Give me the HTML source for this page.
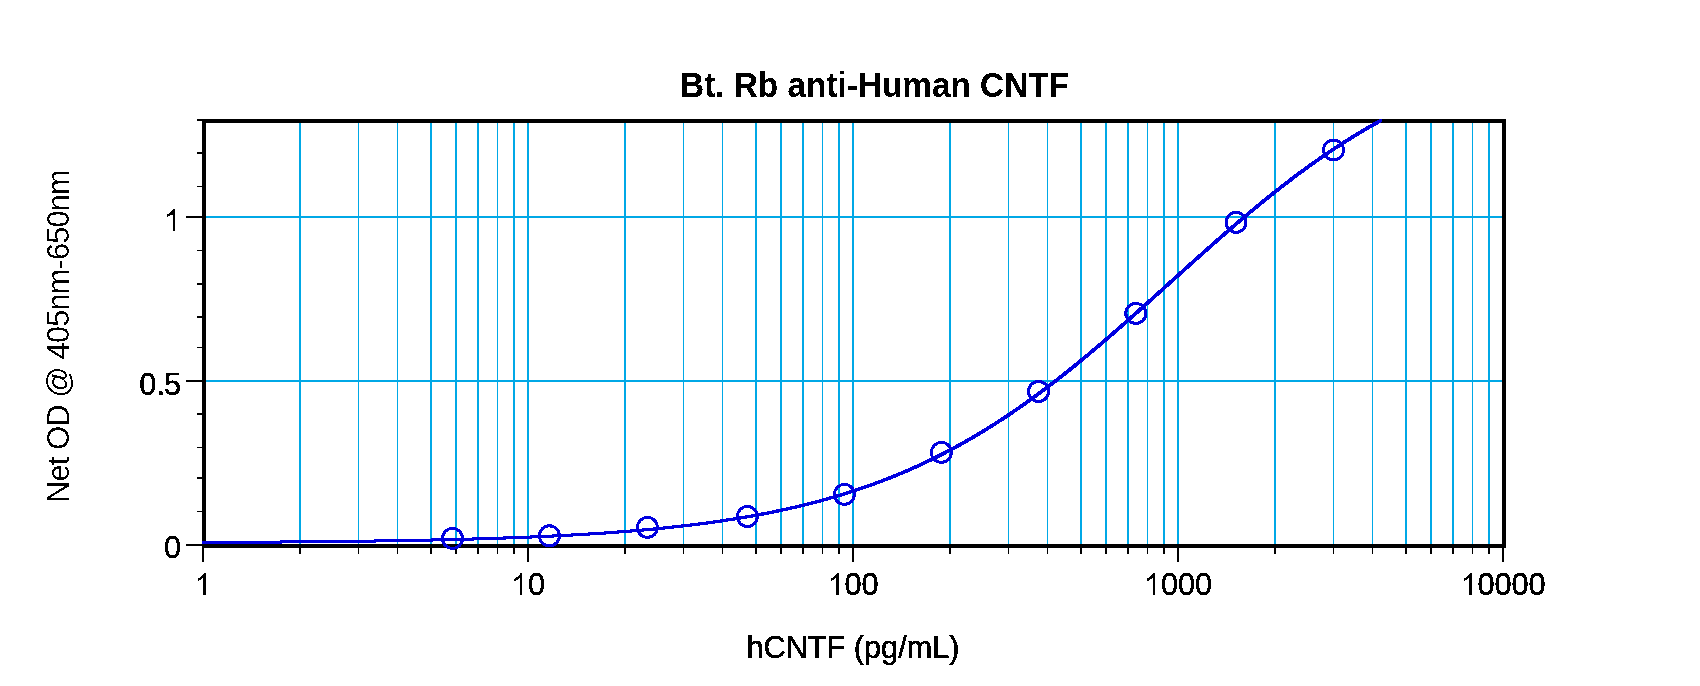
<!DOCTYPE html>
<html><head><meta charset="utf-8"><style>html,body{margin:0;padding:0;background:#fff;overflow:hidden;}svg{display:block;}</style></head>
<body><svg width="1700" height="686" viewBox="0 0 1700 686">
<defs><filter id="bin" x="0" y="0" width="1700" height="686" filterUnits="userSpaceOnUse" color-interpolation-filters="sRGB"><feComponentTransfer><feFuncA type="discrete" tableValues="0 1"/></feComponentTransfer></filter><filter id="bin2" x="0" y="0" width="1700" height="686" filterUnits="userSpaceOnUse" color-interpolation-filters="sRGB"><feComponentTransfer><feFuncA type="discrete" tableValues="0 0 0 0 0 0 1 1 1 1"/></feComponentTransfer></filter></defs>
<rect width="1700" height="686" fill="#fff"/>
<g fill="#00a8e6" shape-rendering="crispEdges"><rect x="299" y="123" width="2" height="421"/><rect x="358" y="123" width="1" height="421"/><rect x="397" y="123" width="1" height="421"/><rect x="430" y="123" width="2" height="421"/><rect x="455" y="123" width="2" height="421"/><rect x="477" y="123" width="2" height="421"/><rect x="497" y="123" width="1" height="421"/><rect x="513" y="123" width="2" height="421"/><rect x="527" y="123" width="2" height="421"/><rect x="624" y="123" width="2" height="421"/><rect x="683" y="123" width="1" height="421"/><rect x="722" y="123" width="1" height="421"/><rect x="755" y="123" width="2" height="421"/><rect x="780" y="123" width="2" height="421"/><rect x="802" y="123" width="2" height="421"/><rect x="822" y="123" width="1" height="421"/><rect x="838" y="123" width="2" height="421"/><rect x="852" y="123" width="2" height="421"/><rect x="949" y="123" width="2" height="421"/><rect x="1008" y="123" width="1" height="421"/><rect x="1047" y="123" width="1" height="421"/><rect x="1080" y="123" width="2" height="421"/><rect x="1105" y="123" width="2" height="421"/><rect x="1127" y="123" width="2" height="421"/><rect x="1147" y="123" width="1" height="421"/><rect x="1163" y="123" width="2" height="421"/><rect x="1177" y="123" width="2" height="421"/><rect x="1274" y="123" width="2" height="421"/><rect x="1333" y="123" width="1" height="421"/><rect x="1372" y="123" width="1" height="421"/><rect x="1405" y="123" width="2" height="421"/><rect x="1430" y="123" width="2" height="421"/><rect x="1452" y="123" width="2" height="421"/><rect x="1472" y="123" width="1" height="421"/><rect x="1488" y="123" width="2" height="421"/><rect x="206" y="216" width="1296" height="2"/><rect x="206" y="380" width="1296" height="2"/></g>
<g fill="#000" shape-rendering="crispEdges"><rect x="202" y="119" width="1304" height="4"/><rect x="202" y="544" width="1304" height="4"/><rect x="202" y="119" width="4" height="429"/><rect x="1502" y="119" width="4" height="429"/><rect x="299" y="546" width="2" height="8"/><rect x="358" y="546" width="1" height="8"/><rect x="397" y="546" width="1" height="8"/><rect x="430" y="546" width="2" height="8"/><rect x="455" y="546" width="2" height="8"/><rect x="477" y="546" width="2" height="8"/><rect x="497" y="546" width="1" height="8"/><rect x="513" y="546" width="2" height="8"/><rect x="527" y="546" width="2" height="16"/><rect x="624" y="546" width="2" height="8"/><rect x="683" y="546" width="1" height="8"/><rect x="722" y="546" width="1" height="8"/><rect x="755" y="546" width="2" height="8"/><rect x="780" y="546" width="2" height="8"/><rect x="802" y="546" width="2" height="8"/><rect x="822" y="546" width="1" height="8"/><rect x="838" y="546" width="2" height="8"/><rect x="852" y="546" width="2" height="16"/><rect x="949" y="546" width="2" height="8"/><rect x="1008" y="546" width="1" height="8"/><rect x="1047" y="546" width="1" height="8"/><rect x="1080" y="546" width="2" height="8"/><rect x="1105" y="546" width="2" height="8"/><rect x="1127" y="546" width="2" height="8"/><rect x="1147" y="546" width="1" height="8"/><rect x="1163" y="546" width="2" height="8"/><rect x="1177" y="546" width="2" height="16"/><rect x="1274" y="546" width="2" height="8"/><rect x="1333" y="546" width="1" height="8"/><rect x="1372" y="546" width="1" height="8"/><rect x="1405" y="546" width="2" height="8"/><rect x="1430" y="546" width="2" height="8"/><rect x="1452" y="546" width="2" height="8"/><rect x="1472" y="546" width="1" height="8"/><rect x="1488" y="546" width="2" height="8"/><rect x="1502" y="546" width="2" height="16"/><rect x="202" y="546" width="2" height="16"/><rect x="197" y="119" width="6" height="2"/><rect x="197" y="152" width="6" height="2"/><rect x="197" y="186" width="6" height="1"/><rect x="186" y="216" width="17" height="2"/><rect x="197" y="250" width="6" height="1"/><rect x="197" y="283" width="6" height="2"/><rect x="197" y="316" width="6" height="2"/><rect x="197" y="347" width="6" height="1"/><rect x="186" y="380" width="17" height="2"/><rect x="197" y="413" width="6" height="2"/><rect x="197" y="447" width="6" height="1"/><rect x="197" y="477" width="6" height="2"/><rect x="197" y="511" width="6" height="1"/><rect x="186" y="544" width="17" height="2"/></g>
<defs><polyline id="cv" points="203.00,542.46 205.00,542.45 207.00,542.44 209.00,542.43 211.00,542.42 213.00,542.41 215.00,542.40 217.00,542.39 219.00,542.38 221.00,542.37 223.00,542.36 225.00,542.35 227.00,542.34 229.00,542.33 231.00,542.32 233.00,542.31 235.00,542.30 237.00,542.29 239.00,542.28 241.00,542.27 243.00,542.26 245.00,542.24 247.00,542.23 249.00,542.22 251.00,542.21 253.00,542.20 255.00,542.18 257.00,542.17 259.00,542.16 261.00,542.15 263.00,542.13 265.00,542.12 267.00,542.11 269.00,542.09 271.00,542.08 273.00,542.06 275.00,542.05 277.00,542.03 279.00,542.02 281.00,542.01 283.00,541.99 285.00,541.97 287.00,541.96 289.00,541.94 291.00,541.93 293.00,541.91 295.00,541.89 297.00,541.88 299.00,541.86 301.00,541.84 303.00,541.83 305.00,541.81 307.00,541.79 309.00,541.77 311.00,541.75 313.00,541.74 315.00,541.72 317.00,541.70 319.00,541.68 321.00,541.66 323.00,541.64 325.00,541.62 327.00,541.60 329.00,541.58 331.00,541.56 333.00,541.53 335.00,541.51 337.00,541.49 339.00,541.47 341.00,541.45 343.00,541.42 345.00,541.40 347.00,541.38 349.00,541.35 351.00,541.33 353.00,541.30 355.00,541.28 357.00,541.25 359.00,541.23 361.00,541.20 363.00,541.18 365.00,541.15 367.00,541.12 369.00,541.09 371.00,541.07 373.00,541.04 375.00,541.01 377.00,540.98 379.00,540.95 381.00,540.92 383.00,540.89 385.00,540.86 387.00,540.83 389.00,540.80 391.00,540.77 393.00,540.73 395.00,540.70 397.00,540.67 399.00,540.63 401.00,540.60 403.00,540.57 405.00,540.53 407.00,540.49 409.00,540.46 411.00,540.42 413.00,540.38 415.00,540.35 417.00,540.31 419.00,540.27 421.00,540.23 423.00,540.19 425.00,540.15 427.00,540.11 429.00,540.07 431.00,540.03 433.00,539.98 435.00,539.94 437.00,539.90 439.00,539.85 441.00,539.81 443.00,539.76 445.00,539.72 447.00,539.67 449.00,539.62 451.00,539.57 453.00,539.52 455.00,539.48 457.00,539.42 459.00,539.37 461.00,539.32 463.00,539.27 465.00,539.22 467.00,539.16 469.00,539.11 471.00,539.05 473.00,539.00 475.00,538.94 477.00,538.88 479.00,538.82 481.00,538.77 483.00,538.71 485.00,538.64 487.00,538.58 489.00,538.52 491.00,538.46 493.00,538.39 495.00,538.33 497.00,538.26 499.00,538.20 501.00,538.13 503.00,538.06 505.00,537.99 507.00,537.92 509.00,537.85 511.00,537.77 513.00,537.70 515.00,537.63 517.00,537.55 519.00,537.47 521.00,537.40 523.00,537.32 525.00,537.24 527.00,537.16 529.00,537.07 531.00,536.99 533.00,536.91 535.00,536.82 537.00,536.74 539.00,536.65 541.00,536.56 543.00,536.47 545.00,536.38 547.00,536.28 549.00,536.19 551.00,536.09 553.00,536.00 555.00,535.90 557.00,535.80 559.00,535.70 561.00,535.60 563.00,535.50 565.00,535.39 567.00,535.29 569.00,535.18 571.00,535.07 573.00,534.96 575.00,534.85 577.00,534.73 579.00,534.62 581.00,534.50 583.00,534.38 585.00,534.26 587.00,534.14 589.00,534.02 591.00,533.89 593.00,533.77 595.00,533.64 597.00,533.51 599.00,533.38 601.00,533.25 603.00,533.11 605.00,532.97 607.00,532.84 609.00,532.69 611.00,532.55 613.00,532.41 615.00,532.26 617.00,532.11 619.00,531.96 621.00,531.81 623.00,531.66 625.00,531.50 627.00,531.34 629.00,531.18 631.00,531.02 633.00,530.85 635.00,530.69 637.00,530.52 639.00,530.35 641.00,530.17 643.00,530.00 645.00,529.82 647.00,529.64 649.00,529.45 651.00,529.27 653.00,529.08 655.00,528.89 657.00,528.70 659.00,528.50 661.00,528.30 663.00,528.10 665.00,527.90 667.00,527.69 669.00,527.48 671.00,527.27 673.00,527.06 675.00,526.84 677.00,526.62 679.00,526.40 681.00,526.17 683.00,525.94 685.00,525.71 687.00,525.47 689.00,525.24 691.00,525.00 693.00,524.75 695.00,524.50 697.00,524.25 699.00,524.00 701.00,523.74 703.00,523.48 705.00,523.22 707.00,522.95 709.00,522.68 711.00,522.41 713.00,522.13 715.00,521.85 717.00,521.56 719.00,521.27 721.00,520.98 723.00,520.69 725.00,520.39 727.00,520.08 729.00,519.78 731.00,519.47 733.00,519.15 735.00,518.83 737.00,518.51 739.00,518.18 741.00,517.85 743.00,517.51 745.00,517.17 747.00,516.83 749.00,516.48 751.00,516.13 753.00,515.77 755.00,515.41 757.00,515.04 759.00,514.67 761.00,514.30 763.00,513.92 765.00,513.53 767.00,513.14 769.00,512.75 771.00,512.35 773.00,511.94 775.00,511.53 777.00,511.12 779.00,510.70 781.00,510.28 783.00,509.85 785.00,509.41 787.00,508.97 789.00,508.53 791.00,508.08 793.00,507.62 795.00,507.16 797.00,506.69 799.00,506.22 801.00,505.74 803.00,505.25 805.00,504.76 807.00,504.27 809.00,503.77 811.00,503.26 813.00,502.74 815.00,502.22 817.00,501.70 819.00,501.17 821.00,500.63 823.00,500.08 825.00,499.53 827.00,498.97 829.00,498.41 831.00,497.84 833.00,497.26 835.00,496.68 837.00,496.09 839.00,495.49 841.00,494.89 843.00,494.28 845.00,493.66 847.00,493.03 849.00,492.40 851.00,491.76 853.00,491.12 855.00,490.46 857.00,489.80 859.00,489.13 861.00,488.46 863.00,487.78 865.00,487.09 867.00,486.39 869.00,485.68 871.00,484.97 873.00,484.25 875.00,483.52 877.00,482.78 879.00,482.04 881.00,481.29 883.00,480.53 885.00,479.76 887.00,478.98 889.00,478.20 891.00,477.40 893.00,476.60 895.00,475.79 897.00,474.97 899.00,474.15 901.00,473.31 903.00,472.47 905.00,471.62 907.00,470.76 909.00,469.89 911.00,469.01 913.00,468.12 915.00,467.23 917.00,466.32 919.00,465.41 921.00,464.49 923.00,463.56 925.00,462.62 927.00,461.67 929.00,460.71 931.00,459.74 933.00,458.77 935.00,457.78 937.00,456.78 939.00,455.78 941.00,454.77 943.00,453.74 945.00,452.71 947.00,451.67 949.00,450.62 951.00,449.56 953.00,448.49 955.00,447.41 957.00,446.32 959.00,445.22 961.00,444.11 963.00,442.99 965.00,441.87 967.00,440.73 969.00,439.58 971.00,438.43 973.00,437.26 975.00,436.09 977.00,434.90 979.00,433.71 981.00,432.50 983.00,431.29 985.00,430.06 987.00,428.83 989.00,427.59 991.00,426.33 993.00,425.07 995.00,423.80 997.00,422.52 999.00,421.23 1001.00,419.93 1003.00,418.62 1005.00,417.30 1007.00,415.97 1009.00,414.63 1011.00,413.28 1013.00,411.92 1015.00,410.56 1017.00,409.18 1019.00,407.80 1021.00,406.40 1023.00,405.00 1025.00,403.58 1027.00,402.16 1029.00,400.73 1031.00,399.29 1033.00,397.84 1035.00,396.38 1037.00,394.91 1039.00,393.44 1041.00,391.95 1043.00,390.46 1045.00,388.96 1047.00,387.45 1049.00,385.93 1051.00,384.40 1053.00,382.87 1055.00,381.32 1057.00,379.77 1059.00,378.21 1061.00,376.64 1063.00,375.07 1065.00,373.49 1067.00,371.89 1069.00,370.30 1071.00,368.69 1073.00,367.08 1075.00,365.46 1077.00,363.83 1079.00,362.19 1081.00,360.55 1083.00,358.90 1085.00,357.25 1087.00,355.59 1089.00,353.92 1091.00,352.24 1093.00,350.56 1095.00,348.88 1097.00,347.18 1099.00,345.48 1101.00,343.78 1103.00,342.07 1105.00,340.36 1107.00,338.63 1109.00,336.91 1111.00,335.18 1113.00,333.44 1115.00,331.70 1117.00,329.96 1119.00,328.21 1121.00,326.46 1123.00,324.70 1125.00,322.94 1127.00,321.17 1129.00,319.41 1131.00,317.63 1133.00,315.86 1135.00,314.08 1137.00,312.30 1139.00,310.52 1141.00,308.73 1143.00,306.94 1145.00,305.15 1147.00,303.36 1149.00,301.56 1151.00,299.76 1153.00,297.96 1155.00,296.16 1157.00,294.36 1159.00,292.56 1161.00,290.76 1163.00,288.95 1165.00,287.15 1167.00,285.34 1169.00,283.54 1171.00,281.73 1173.00,279.93 1175.00,278.12 1177.00,276.32 1179.00,274.52 1181.00,272.71 1183.00,270.91 1185.00,269.11 1187.00,267.31 1189.00,265.51 1191.00,263.72 1193.00,261.92 1195.00,260.13 1197.00,258.34 1199.00,256.55 1201.00,254.77 1203.00,252.99 1205.00,251.21 1207.00,249.43 1209.00,247.66 1211.00,245.89 1213.00,244.12 1215.00,242.36 1217.00,240.60 1219.00,238.85 1221.00,237.09 1223.00,235.35 1225.00,233.61 1227.00,231.87 1229.00,230.14 1231.00,228.41 1233.00,226.69 1235.00,224.97 1237.00,223.26 1239.00,221.55 1241.00,219.85 1243.00,218.15 1245.00,216.46 1247.00,214.78 1249.00,213.10 1251.00,211.43 1253.00,209.77 1255.00,208.11 1257.00,206.46 1259.00,204.81 1261.00,203.18 1263.00,201.54 1265.00,199.92 1267.00,198.30 1269.00,196.70 1271.00,195.09 1273.00,193.50 1275.00,191.91 1277.00,190.33 1279.00,188.76 1281.00,187.20 1283.00,185.64 1285.00,184.10 1287.00,182.56 1289.00,181.03 1291.00,179.50 1293.00,177.99 1295.00,176.48 1297.00,174.99 1299.00,173.50 1301.00,172.02 1303.00,170.55 1305.00,169.09 1307.00,167.63 1309.00,166.19 1311.00,164.75 1313.00,163.33 1315.00,161.91 1317.00,160.50 1319.00,159.10 1321.00,157.71 1323.00,156.33 1325.00,154.96 1327.00,153.60 1329.00,152.25 1331.00,150.91 1333.00,149.57 1335.00,148.25 1337.00,146.94 1339.00,145.63 1341.00,144.34 1343.00,143.05 1345.00,141.77 1347.00,140.51 1349.00,139.25 1351.00,138.00 1353.00,136.77 1355.00,135.54 1357.00,134.32 1359.00,133.11 1361.00,131.91 1363.00,130.72 1365.00,129.54 1367.00,128.37 1369.00,127.21 1371.00,126.06 1373.00,124.92 1375.00,123.79 1377.00,122.67 1379.00,121.55 1381.00,120.50" fill="none" stroke="#0000e0" stroke-width="1" shape-rendering="crispEdges"/></defs><use href="#cv" x="-1" y="-1"/><use href="#cv" x="-1" y="0"/><use href="#cv" x="-1" y="1"/><use href="#cv" x="0" y="-1"/><use href="#cv" x="0" y="0"/><use href="#cv" x="0" y="1"/><use href="#cv" x="1" y="-1"/><use href="#cv" x="1" y="0"/><use href="#cv" x="1" y="1"/>
<g fill="none" stroke="#0000e0" stroke-width="3" shape-rendering="crispEdges"><circle cx="452.5" cy="538.4" r="10"/><circle cx="549.4" cy="535.8" r="10"/><circle cx="647.4" cy="527.4" r="10"/><circle cx="747.4" cy="516.5" r="10"/><circle cx="844.4" cy="494.4" r="10"/><circle cx="941.4" cy="452.4" r="10"/><circle cx="1038.5" cy="391.5" r="10"/><circle cx="1135.8" cy="313.4" r="10"/><circle cx="1236" cy="222.4" r="10"/><circle cx="1333.5" cy="150" r="10"/></g>
<g font-family="Liberation Sans, sans-serif" font-size="30.7" fill="#000" stroke="#000" stroke-width="0.45" filter="url(#bin)"><path transform="translate(194.46,595.00) scale(0.014990,-0.014990)" d="M763 0H583V1147Q518 1085 465 1054T359.5 992T223 930V1104Q374 1175 430.5 1225.5T543.5 1326.5T647 1472H763Z"/><path transform="translate(510.93,595.00) scale(0.014990,-0.014990)" d="M763 0H583V1147Q518 1085 465 1054T359.5 992T223 930V1104Q374 1175 430.5 1225.5T543.5 1326.5T647 1472H763Z"/><text x="528.00" y="595.00">0</text><path transform="translate(827.39,595.00) scale(0.014990,-0.014990)" d="M763 0H583V1147Q518 1085 465 1054T359.5 992T223 930V1104Q374 1175 430.5 1225.5T543.5 1326.5T647 1472H763Z"/><text x="844.46" y="595.00">0</text><text x="861.54" y="595.00">0</text><path transform="translate(1143.85,595.00) scale(0.014990,-0.014990)" d="M763 0H583V1147Q518 1085 465 1054T359.5 992T223 930V1104Q374 1175 430.5 1225.5T543.5 1326.5T647 1472H763Z"/><text x="1160.93" y="595.00">0</text><text x="1178.00" y="595.00">0</text><text x="1195.07" y="595.00">0</text><path transform="translate(1460.32,595.00) scale(0.014990,-0.014990)" d="M763 0H583V1147Q518 1085 465 1054T359.5 992T223 930V1104Q374 1175 430.5 1225.5T543.5 1326.5T647 1472H763Z"/><text x="1477.39" y="595.00">0</text><text x="1494.46" y="595.00">0</text><text x="1511.54" y="595.00">0</text><text x="1528.61" y="595.00">0</text><text x="163.93" y="558.00">0</text><text x="139.32" y="395.00">0</text><text x="156.40" y="395.00">.</text><text x="163.93" y="395.00">5</text><path transform="translate(163.93,231.00) scale(0.014990,-0.014990)" d="M763 0H583V1147Q518 1085 465 1054T359.5 992T223 930V1104Q374 1175 430.5 1225.5T543.5 1326.5T647 1472H763Z"/><text x="853" y="658" text-anchor="middle">hCNTF (pg/mL)</text><text transform="translate(874.5,97) scale(1,1.045)" text-anchor="middle" font-weight="bold" font-size="33.35" stroke-width="0.1">Bt. Rb anti-Human CNTF</text></g>
<g font-family="Liberation Sans, sans-serif" font-size="30.7" fill="#000" filter="url(#bin2)"><text transform="translate(69,336.5) rotate(-90)" text-anchor="middle" letter-spacing="-0.79">Net OD @ 405nm-650nm</text></g>
</svg></body></html>
